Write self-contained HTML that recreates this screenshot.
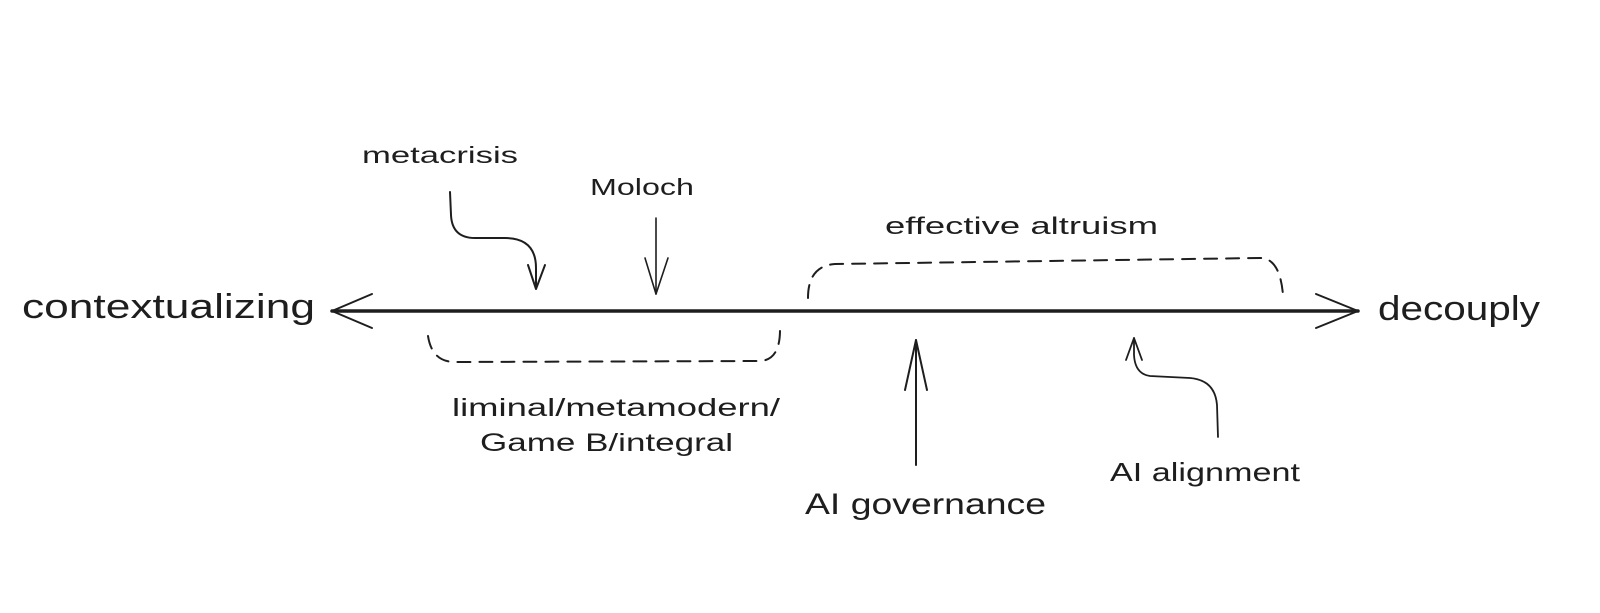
<!DOCTYPE html>
<html><head><meta charset="utf-8"><style>
html,body{margin:0;padding:0;background:#fff;width:1600px;height:613px;overflow:hidden}
svg{display:block}
text{font-family:"Liberation Sans",sans-serif;fill:#1e1e1e}
</style></head><body>
<svg width="1600" height="613" viewBox="0 0 1600 613" xmlns="http://www.w3.org/2000/svg">
<g fill="none" stroke="#1e1e1e" stroke-linecap="round" stroke-linejoin="round">
<path d="M332 311 L1358 311" stroke-width="3.5"/>
<path d="M372 294 L332 311 L372 328" stroke-width="2"/>
<path d="M1316 294 L1358 311 L1316 328" stroke-width="2"/>
<path d="M450 192 L451 215 Q452 238 475 238 L505 238 Q536 238 536 268 L536 285" stroke-width="2"/>
<path d="M528 265 L536 289 L545 265" stroke-width="2"/>
<path d="M656 218 L656 294" stroke-width="1.6"/>
<path d="M645 258 L656 294 L668 258" stroke-width="1.6"/>
<path d="M916 465 L916 340" stroke-width="2"/>
<path d="M905 390 L916 340 L927 390" stroke-width="2"/>
<path d="M1218 437 L1217 405 Q1215 380 1190 378 L1150 376 Q1135 374 1134 355 L1134 338" stroke-width="1.8"/>
<path d="M1126 360 L1134 338 L1142 360" stroke-width="1.8"/>
<path d="M808 298 Q808 266 835 264 L1260 258 Q1280 258 1283 295" stroke-width="2" stroke-dasharray="13 9"/>
<path d="M428 336 Q432 362 455 362 L760 361 Q780 360 780 330" stroke-width="2" stroke-dasharray="13 9"/>
</g>
<text x="22" y="318" font-size="34" textLength="293" lengthAdjust="spacingAndGlyphs">contextualizing</text>
<text x="1378" y="320" font-size="34" textLength="162" lengthAdjust="spacingAndGlyphs">decouply</text>
<text x="362" y="163" font-size="23" textLength="156" lengthAdjust="spacingAndGlyphs">metacrisis</text>
<text x="590" y="195" font-size="23" textLength="104" lengthAdjust="spacingAndGlyphs">Moloch</text>
<text x="885" y="234" font-size="24" textLength="273" lengthAdjust="spacingAndGlyphs">effective altruism</text>
<text x="452" y="416" font-size="25" textLength="328" lengthAdjust="spacingAndGlyphs">liminal/metamodern/</text>
<text x="480" y="451" font-size="25" textLength="253" lengthAdjust="spacingAndGlyphs">Game B/integral</text>
<text x="805" y="514" font-size="30" textLength="241" lengthAdjust="spacingAndGlyphs">AI governance</text>
<text x="1110" y="481" font-size="26" textLength="190" lengthAdjust="spacingAndGlyphs">AI alignment</text>
</svg>
</body></html>
